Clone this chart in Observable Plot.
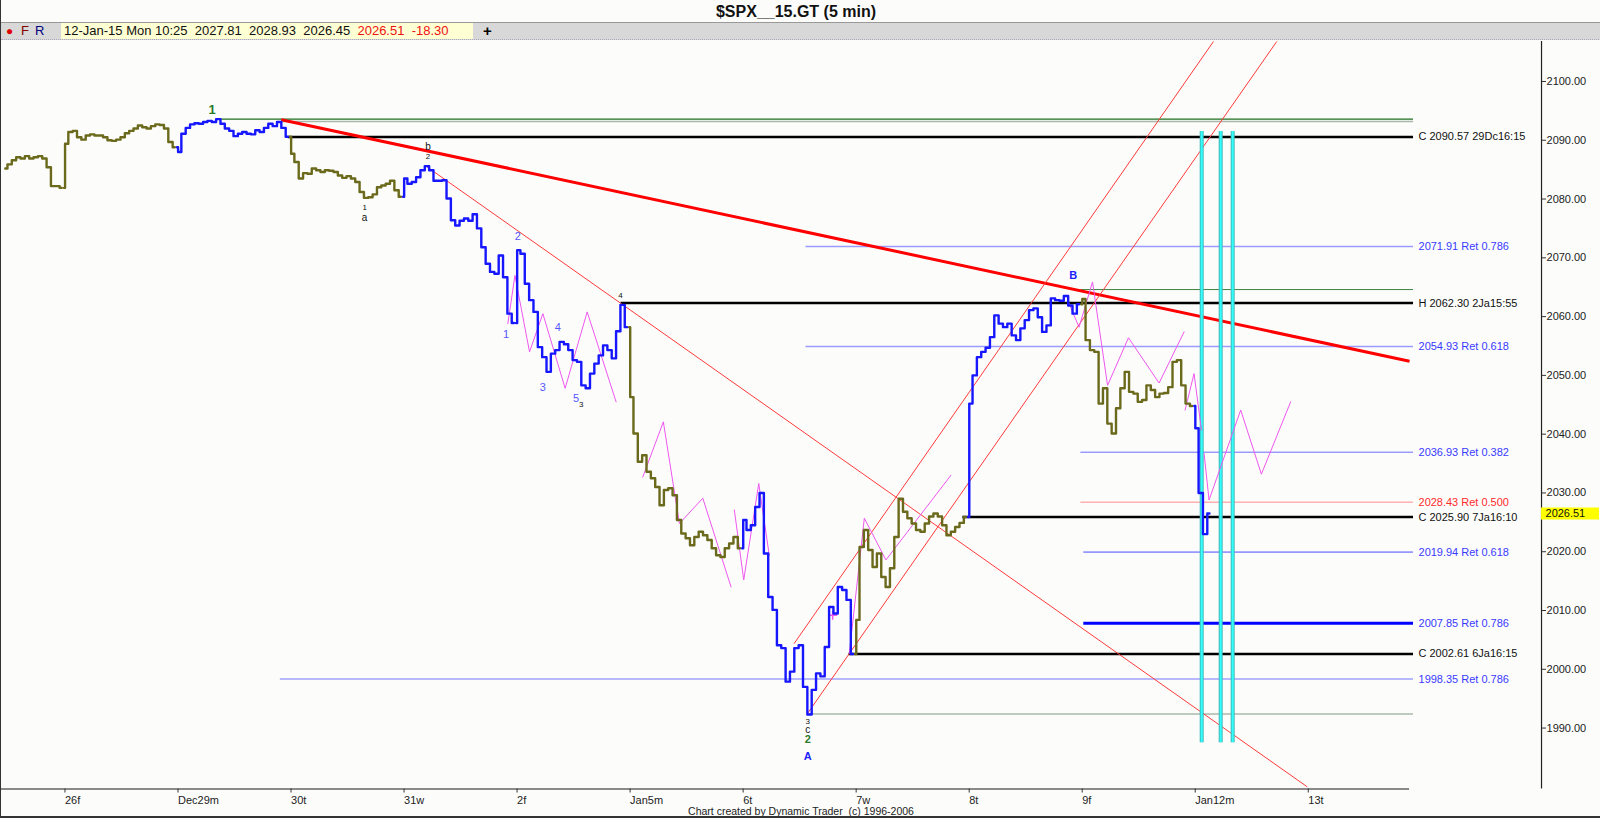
<!DOCTYPE html>
<html>
<head>
<meta charset="utf-8">
<script src="https://cdn.jsdelivr.net/npm/d3@7"></script>
<script src="https://cdn.jsdelivr.net/npm/@observablehq/plot@0.6"></script>
<style>
  body { margin: 0; background: #fcfdfb; }
  #wrap { position: relative; width: 1600px; height: 818px; background: #fcfdfb; overflow: hidden;
          font-family: "Liberation Sans", Arial, sans-serif; box-sizing: border-box;
          border-left: 1px solid #333; border-bottom: 2px solid #333; }
  #title { position: absolute; top: 3px; left: 0; width: 1590px; text-align: center; font-weight: bold; font-size: 16px; color: #111; }
  #bar { position: absolute; top: 22px; left: 0; width: 1600px; height: 16px; background: #d8d8d8;
         border-top: 1px solid #999; border-bottom: 1px dotted #aab; font-size: 13px; }
  #bar span { position: absolute; top: 0px; line-height: 16px; }
  #quote { position: absolute; left: 60px; top: 0; width: 412px; height: 16px; background: #ffffd4; }
  #chart { position: absolute; top: 41px; left: 0; }
  #foot { position: absolute; top: 805px; left: 0; width: 1600px; text-align: center; font-size: 10.5px; color: #222; }
</style>
</head>
<body>
<div id="wrap">
  <div id="title">$SPX__15.GT (5 min)</div>
  <div id="bar">
    <span style="left:5px;color:#e00000;font-size:12px">&#9679;</span>
    <span style="left:20px;color:#800000">F</span>
    <span style="left:34px;color:#000080">R</span>
    <div id="quote"><span style="left:3px;color:#111">12-Jan-15 Mon 10:25&nbsp;&nbsp;2027.81&nbsp;&nbsp;2028.93&nbsp;&nbsp;2026.45&nbsp;&nbsp;<span style="position:static;color:#ee1111">2026.51&nbsp;&nbsp;-18.30</span></span></div>
    <span style="left:482px;font-weight:bold;font-size:15px">+</span>
  </div>
  <div id="chart"></div>
  <div id="foot">Chart created by Dynamic Trader&nbsp; (c) 1996-2006</div>
</div>
<script>
// x = trading days since Dec 26 open, closes every 15 minutes (26 per full session)
const dayLabels = ["26f", "Dec29m", "30t", "31w", "2f", "Jan5m", "6t", "7w", "8t", "9f", "Jan12m", "13t"]
const yTicks = [1990, 2000, 2010, 2020, 2030, 2040, 2050, 2060, 2070, 2080, 2090, 2100]

const dec24 = [2085.2, 2085.9, 2086.6, 2087.1, 2086.9, 2087.3, 2086.9, 2087.1, 2087.3, 2086.9, 2085.4, 2082.2, 2082.2, 2081.9]
const dec26 = [2089.4, 2091.4, 2091.6, 2090.5, 2090.1, 2090.8, 2091.0, 2090.8, 2090.8, 2090.5, 2090.0, 2089.9, 2090.1,
  2090.5, 2091.2, 2091.6, 2092.0, 2092.5, 2092.2, 2092.0, 2092.4, 2092.7, 2092.6, 2092.0, 2089.7, 2088.8]
const dec29 = [2088.0, 2091.1, 2092.1, 2092.7, 2092.9, 2092.8, 2093.1, 2093.3, 2093.1, 2093.6, 2092.8, 2092.0, 2091.6,
  2090.7, 2091.1, 2091.4, 2091.1, 2091.0, 2091.7, 2091.4, 2092.1, 2092.8, 2092.4, 2093.1, 2092.1, 2090.6]
const dec30 = [2087.7, 2086.3, 2083.5, 2084.4, 2084.3, 2085.2, 2084.9, 2084.6, 2084.9, 2084.8, 2084.6, 2084.0, 2083.6,
  2083.9, 2083.5, 2082.9, 2081.2, 2080.2, 2080.3, 2080.8, 2082.0, 2082.3, 2082.6, 2083.1, 2081.5, 2080.4]
const dec31 = [2083.5, 2082.6, 2082.9, 2083.7, 2084.9, 2085.6, 2084.9, 2083.1, 2083.1, 2083.2, 2080.1, 2076.4, 2075.5,
  2076.3, 2076.7, 2076.3, 2077.4, 2075.0, 2071.8, 2069.0, 2067.6, 2067.3, 2070.4, 2066.7, 2060.5, 2058.9]
const jan2 = [2071.3, 2070.7, 2065.6, 2062.8, 2060.8, 2054.8, 2053.1, 2050.6, 2053.7, 2054.3, 2055.7, 2055.3, 2054.3,
  2052.6, 2052.3, 2048.3, 2047.8, 2050.3, 2052.0, 2053.4, 2055.1, 2054.3, 2052.9, 2057.5, 2062.0, 2058.2]
const jan5 = [2046.3, 2040.1, 2035.3, 2036.4, 2033.6, 2032.5, 2031.0, 2027.9, 2030.5, 2030.8, 2029.6, 2025.4, 2023.1,
  2022.3, 2021.1, 2022.5, 2023.4, 2022.8, 2022.0, 2020.6, 2019.4, 2019.1, 2020.6, 2021.4, 2022.5, 2020.6]
const jan6 = [2025.4, 2023.7, 2024.5, 2027.6, 2030.0, 2019.7, 2012.3, 2010.1, 2004.1, 2003.6, 1997.9, 1999.6, 2003.6,
  2004.1, 1997.0, 1992.3, 1996.5, 1999.3, 1998.8, 2003.8, 2010.6, 2009.5, 2014.0, 2013.5, 2011.8, 2002.6]
const jan7 = [2008.4, 2020.8, 2023.7, 2020.3, 2017.4, 2019.7, 2015.7, 2014.0, 2017.2, 2022.5, 2029.0, 2026.8, 2025.7,
  2024.8, 2023.7, 2023.4, 2024.8, 2026.0, 2026.5, 2026.0, 2024.5, 2022.8, 2023.4, 2024.2, 2024.9, 2025.9]
const jan8 = [2045.2, 2050.0, 2053.1, 2054.0, 2054.7, 2056.5, 2060.2, 2058.8, 2058.2, 2058.8, 2056.8, 2056.0, 2058.0,
  2059.4, 2061.1, 2061.4, 2059.9, 2057.4, 2058.5, 2063.1, 2062.8, 2062.7, 2063.5, 2061.9, 2060.5, 2062.1]
const jan9 = [2063.0, 2056.0, 2054.3, 2054.0, 2045.2, 2047.8, 2041.8, 2040.1, 2044.4, 2047.8, 2050.6, 2047.2, 2046.9,
  2045.5, 2045.8, 2048.3, 2047.5, 2046.3, 2046.9, 2047.0, 2048.0, 2052.3, 2052.6, 2048.3, 2045.2, 2044.8]
const jan12 = [2041.0, 2030.0, 2023.0, 2026.51]

const sessions = [
  {name: "Dec24", start: -14 / 26, wave: "olive", closes: dec24},
  {name: "Dec26", start: 0, wave: "olive", closes: dec26},
  {name: "Dec29", start: 1, wave: "blue", closes: dec29},
  {name: "Dec30", start: 2, wave: "olive", closes: dec30},
  {name: "Dec31", start: 3, wave: "blue", closes: dec31},
  {name: "Jan2", start: 4, wave: "blue", closes: jan2},
  {name: "Jan5", start: 5, wave: "olive", closes: jan5},
  {name: "Jan6", start: 6, wave: "blue", closes: jan6},
  {name: "Jan7", start: 7, wave: "olive", closes: jan7},
  {name: "Jan8", start: 8, wave: "blue", closes: jan8},
  {name: "Jan9", start: 9, wave: "olive", closes: jan9},
  {name: "Jan12", start: 10, wave: "blue", closes: jan12},
]
const waveColor = {olive: "#6b6a1c", blue: "#1616ff"}

// horizontal levels: value, first day, colour, width, label
const levelEnd = 11.94
const levels = [
  {value: 2093.6, start: 1.366, color: "#1f6f1f", width: 1.2, label: "", labelColor: ""},
  {value: 2093.2, start: 1.923, color: "#a8b8a8", width: 1.5, label: "", labelColor: ""},
  {value: 2090.57, start: 1.985, color: "#000000", width: 2.5, label: "C 2090.57 29Dc16:15", labelColor: "#111"},
  {value: 2071.91, start: 6.565, color: "#9a9aff", width: 1.5, label: "2071.91 Ret 0.786", labelColor: "#3a3aff"},
  {value: 2064.6, start: 8.997, color: "#3f7f3f", width: 1, label: "", labelColor: ""},
  {value: 2062.30, start: 4.929, color: "#000000", width: 2.5, label: "H 2062.30 2Ja15:55", labelColor: "#111"},
  {value: 2054.93, start: 6.565, color: "#9a9aff", width: 1.5, label: "2054.93 Ret 0.618", labelColor: "#3a3aff"},
  {value: 2036.93, start: 8.997, color: "#6a6aff", width: 1, label: "2036.93 Ret 0.382", labelColor: "#3a3aff"},
  {value: 2028.43, start: 8.997, color: "#ff8a8a", width: 1, label: "2028.43 Ret 0.500", labelColor: "#ff2a2a"},
  {value: 2025.90, start: 7.953, color: "#000000", width: 2.5, label: "C 2025.90 7Ja16:10", labelColor: "#111"},
  {value: 2019.94, start: 9.023, color: "#4a4aff", width: 1, label: "2019.94 Ret 0.618", labelColor: "#3a3aff"},
  {value: 2007.85, start: 9.023, color: "#0000ff", width: 3, label: "2007.85 Ret 0.786", labelColor: "#3a3aff"},
  {value: 2002.61, start: 6.945, color: "#000000", width: 2.5, label: "C 2002.61 6Ja16:15", labelColor: "#111"},
  {value: 1998.35, start: 1.914, color: "#a0a0ff", width: 1.5, label: "1998.35 Ret 0.786", labelColor: "#3a3aff"},
  {value: 1992.4, start: 6.583, color: "#a8b8a8", width: 1.5, label: "", labelColor: ""},
]

// trend lines and channel
const trends = [
  {t1: 1.923, v1: 2093.5, t2: 11.905, v2: 2052.4, color: "#ff0000", width: 3},
  {t1: 3.21, v1: 2085.5, t2: 11.0, v2: 1980.0, color: "#ff3838", width: 1},
  {t1: 6.573, v1: 1992.33, t2: 10.73, v2: 2106.8, color: "#ff3838", width: 1},
  {t1: 6.459, v1: 2004.35, t2: 10.17, v2: 2106.8, color: "#ff3838", width: 1},
]

// time cycle markers
const cycleDays = [10.066, 10.234, 10.340]
const cycleLow = 1987.5
const cycleHigh = 2091.5

// projected swings (magenta)
const projA = [[3.927, 2058.8], [3.99, 2067.0], [4.119, 2054.0], [4.237, 2060.5], [4.434, 2047.8], [4.629, 2060.8], [4.885, 2045.5]]
const projB = [[5.121, 2032.7], [5.303, 2042.1], [5.445, 2024.8], [5.652, 2029.1], [5.902, 2014.0]]
const projC = [[5.931, 2027.1], [6.014, 2015.2], [6.147, 2031.6], [6.240, 2019.4]]
const projD = [[6.948, 2002.7], [7.081, 2025.7], [7.272, 2018.6], [7.847, 2033.0]]
const projE = [[8.879, 2062.8], [8.981, 2058.2], [9.100, 2065.9], [9.233, 2048.3], [9.418, 2056.4], [9.689, 2048.7], [9.910, 2057.4]]
const projF = [[9.919, 2044.1], [9.998, 2050.3], [10.064, 2040.7]]
const projG = [[10.087, 2036.7], [10.131, 2028.8], [10.411, 2044.1], [10.594, 2033.2], [10.853, 2045.5]]
const projPlus = [[6.801, 2009.2]]

// wave labels
const boldLabels = [
  {t: 1.31, v: 2095.1, text: "1", color: "#2a7a2a", size: 13},
  {t: 6.58, v: 1988.1, text: "2", color: "#2a7a2a", size: 11},
  {t: 6.58, v: 1985.1, text: "A", color: "#2020ff", size: 11},
  {t: 8.93, v: 2067.0, text: "B", color: "#2020ff", size: 11},
]
const smallLabels = [
  {t: 3.22, v: 2088.9, text: "b", color: "#111", size: 10},
  {t: 3.22, v: 2087.2, text: "2", color: "#111", size: 8},
  {t: 2.66, v: 2078.6, text: "1", color: "#111", size: 8},
  {t: 2.66, v: 2076.8, text: "a", color: "#111", size: 10},
  {t: 4.016, v: 2073.6, text: "2", color: "#5555ff", size: 11},
  {t: 3.912, v: 2056.9, text: "1", color: "#5555ff", size: 11},
  {t: 4.237, v: 2048.0, text: "3", color: "#5555ff", size: 11},
  {t: 4.370, v: 2058.2, text: "4", color: "#5555ff", size: 11},
  {t: 4.531, v: 2046.0, text: "5", color: "#5555ff", size: 11},
  {t: 4.576, v: 2045.0, text: "3", color: "#111", size: 8},
  {t: 4.923, v: 2063.6, text: "4", color: "#111", size: 8},
  {t: 6.58, v: 1991.2, text: "3", color: "#111", size: 8},
  {t: 6.58, v: 1989.7, text: "c", color: "#111", size: 10},
]

const lastPrice = 2026.51
const xMin = -0.5526, xMax = 13.0725
const yMin = 1979.63, yMax = 2106.8
const axisEnd = 11.905

// build the price table
const price = []
let prev = null
sessions.forEach(s => {
  const color = waveColor[s.wave]
  if (prev !== null) price.push({day: s.name, t: s.start, v: prev, color})
  s.closes.forEach((v, i) => price.push({day: s.name, t: s.start + (i + 0.5) / 26, v, color}))
  prev = s.closes[s.closes.length - 1]
})

const proj = []
;[projA, projB, projC, projD, projE, projF, projG].forEach((p, k) =>
  p.forEach(([t, v]) => proj.push({g: k, t, v})))

const chart = Plot.plot({
  width: 1600,
  height: 777,
  marginTop: 0,
  marginLeft: 0,
  marginRight: 59,
  marginBottom: 29,
  x: {domain: [xMin, xMax], range: [0, 1541], label: null},
  y: {domain: [yMin, yMax], range: [748, 0], label: null},
  color: {type: "identity"},
  style: {background: "transparent", fontFamily: "'Liberation Sans', Arial, sans-serif", fontSize: "11px", overflow: "visible"},
  marks: [
    Plot.ruleY(levels.map(l => ({...l, end: levelEnd})), {
      y: "value", x1: "start", x2: "end", stroke: "color", strokeWidth: "width"
    }),
    Plot.text(levels.filter(l => l.label), {
      x: () => levelEnd, y: "value", text: "label", fill: "labelColor",
      textAnchor: "start", dx: 5, fontSize: 11
    }),
    Plot.link(trends, {x1: "t1", y1: "v1", x2: "t2", y2: "v2", stroke: "color", strokeWidth: "width"}),
    Plot.ruleX(cycleDays.map(t => ({t, lo: cycleLow, hi: cycleHigh})), {
      x: "t", y1: "lo", y2: "hi", stroke: "#3fb8b8", strokeWidth: 4
    }),
    Plot.ruleX(cycleDays.map(t => ({t, lo: cycleLow, hi: cycleHigh})), {
      x: "t", y1: "lo", y2: "hi", stroke: "#33ffff", strokeWidth: 2
    }),
    Plot.line(proj, {x: "t", y: "v", z: "g", stroke: "#ee55ee", strokeWidth: 1}),
    Plot.dot(projPlus, {x: d => d[0], y: d => d[1], symbol: "plus", r: 3, stroke: "#ee55ee", strokeWidth: 1.5}),
    Plot.line(price, {x: "t", y: "v", z: "day", stroke: "color", strokeWidth: 2.4, curve: "step"}),
    Plot.text(smallLabels, {x: "t", y: "v", text: "text", fill: "color", fontSize: "size"}),
    Plot.text(boldLabels, {x: "t", y: "v", text: "text", fill: "color", fontSize: "size", fontWeight: "bold"}),
    Plot.ruleY([{y: yMin, x1: xMin, x2: axisEnd}], {y: "y", x1: "x1", x2: "x2", stroke: "#8a8a8a", strokeWidth: 2}),
    Plot.ruleX([{x: xMax, y1: yMin, y2: yMax}], {x: "x", y1: "y1", y2: "y2", stroke: "#222", strokeWidth: 1.2}),
    Plot.axisX({
      anchor: "bottom", ticks: d3.range(dayLabels.length), tickFormat: i => dayLabels[i],
      tickSize: 4, tickPadding: 3, textAnchor: "start", dx: 1, fontSize: 11, fill: "#222", stroke: "#333"
    }),
    Plot.axisY({
      anchor: "right", ticks: yTicks, tickFormat: d => d.toFixed(2),
      tickSize: 4, tickPadding: 1, fontSize: 11, fill: "#222", stroke: "#333"
    }),
    Plot.ruleY([{y: lastPrice, x1: xMax, x2: 13.585}], {y: "y", x1: "x1", x2: "x2", stroke: "#ffff00", strokeWidth: 12}),
    Plot.text([{y: lastPrice, x: xMax}], {x: "x", y: "y", text: () => lastPrice.toFixed(2), textAnchor: "start", dx: 4, fontSize: 11, fill: "#111"}),
  ]
})

d3.select('#chart').append(() => chart)
</script>
</body>
</html>
